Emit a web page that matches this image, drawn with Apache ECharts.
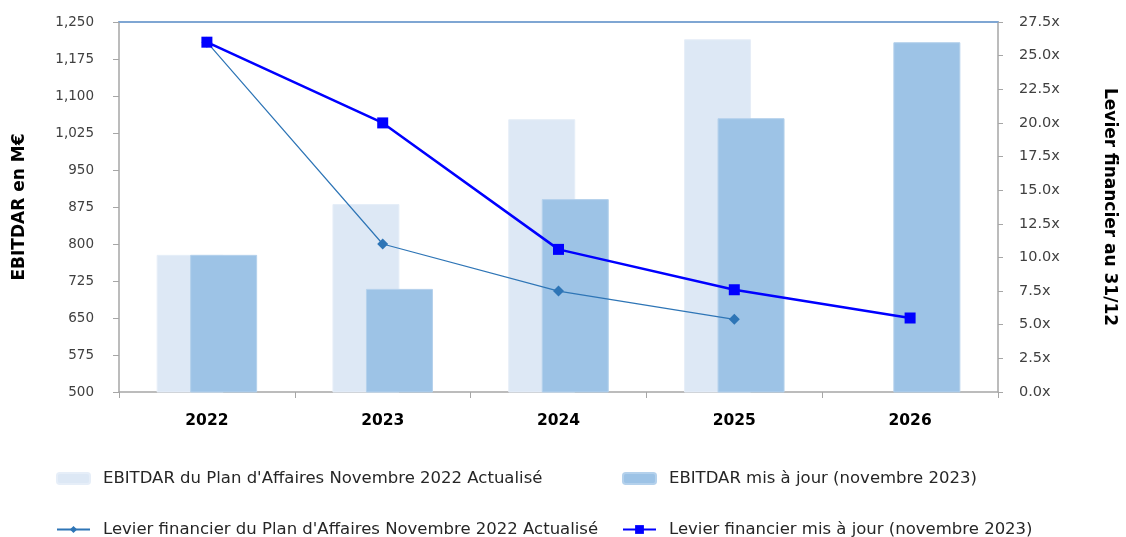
<!DOCTYPE html>
<html>
<head>
<meta charset="utf-8">
<script src="https://cdn.jsdelivr.net/npm/echarts@6/dist/echarts.min.js"></script>
<style>
html,body{margin:0;padding:0;background:#fff;}
#c{width:1126px;height:537px;}
</style>
</head>
<body>
<div id="c"></div>
<script>
var categories = ['2022', '2023', '2024', '2025', '2026'];
var ebitdarPlan = [778, 881, 1053, 1215, null];
var ebitdarUpdated = [778, 709, 891, 1055, 1209];
var levierPlan = [26.0, 11.0, 7.5, 5.4, null];
var levierUpdated = [26.0, 20.0, 10.6, 7.6, 5.5];
var names = [
  "EBITDAR du Plan d'Affaires Novembre 2022 Actualisé",
  "EBITDAR mis à jour (novembre 2023)",
  "Levier financier du Plan d'Affaires Novembre 2022 Actualisé",
  "Levier financier mis à jour (novembre 2023)"
];

var font = '"DejaVu Sans", sans-serif';
var chart = echarts.init(document.getElementById('c'));
var legendBase = {
  orient: 'horizontal',
  itemGap: 0,
  padding: 0,
  textStyle: {fontFamily: font, fontSize: 16.5, color: '#262626', padding: [0, 0, 0, 8]},
  selectedMode: false
};
chart.setOption({
  animation: false,
  grid: {left: 119, right: 124, top: 22, bottom: 145},
  legend: [
    Object.assign({}, legendBase, {data: [names[0]], left: 56, top: 470, itemWidth: 33, itemHeight: 11}),
    Object.assign({}, legendBase, {data: [names[1]], left: 622, top: 470, itemWidth: 33, itemHeight: 11}),
    Object.assign({}, legendBase, {data: [names[2]], left: 56, top: 521, itemWidth: 33, itemHeight: 9}),
    Object.assign({}, legendBase, {data: [names[3]], left: 622, top: 521, itemWidth: 33, itemHeight: 11})
  ],
  xAxis: [{
    type: 'category',
    data: categories,
    position: 'bottom',
    axisLine: {lineStyle: {color: '#A6A6A6', width: 1.5}},
    axisTick: {show: true, alignWithLabel: false, length: 6, lineStyle: {color: '#A6A6A6'}},
    axisLabel: {fontFamily: font, fontSize: 15.5, fontWeight: 'bold', color: '#000', margin: 21}
  }, {
    type: 'category',
    data: categories,
    position: 'top',
    axisLine: {lineStyle: {color: '#7FA6D3', width: 2}},
    axisTick: {show: false},
    axisLabel: {show: false}
  }],
  yAxis: [{
    type: 'value',
    min: 500, max: 1250, interval: 75,
    name: 'EBITDAR en M€',
    nameLocation: 'middle',
    nameRotate: 90,
    nameGap: 91,
    nameTextStyle: {fontFamily: font, fontSize: 17, fontWeight: 'bold', color: '#000'},
    axisLine: {show: true, lineStyle: {color: '#A6A6A6', width: 1.5}},
    axisTick: {show: true, length: 6, lineStyle: {color: '#A6A6A6'}},
    splitLine: {show: false},
    axisLabel: {fontFamily: font, fontSize: 13.5, color: '#404040', margin: 25,
      formatter: function (v) { return v.toLocaleString('en-US'); }}
  }, {
    type: 'value',
    min: 0, max: 27.5, interval: 2.5,
    position: 'right',
    name: 'Levier financier au 31/12',
    nameLocation: 'middle',
    nameRotate: -90,
    nameGap: 103,
    nameTextStyle: {fontFamily: font, fontSize: 17, fontWeight: 'bold', color: '#000'},
    axisLine: {show: true, lineStyle: {color: '#A6A6A6', width: 1.5}},
    axisTick: {show: true, length: 5, lineStyle: {color: '#A6A6A6'}},
    splitLine: {show: false},
    axisLabel: {fontFamily: font, fontSize: 14.5, color: '#404040', margin: 21,
      formatter: function (v) { return v.toFixed(1) + 'x'; }}
  }],
  series: [{
    name: names[0],
    type: 'bar',
    data: ebitdarPlan,
    barWidth: 67,
    barGap: '-50%',
    itemStyle: {color: '#DDE8F5', borderColor: '#E6EEF8', borderWidth: 1}
  }, {
    name: names[1],
    type: 'bar',
    data: ebitdarUpdated,
    barWidth: 67,
    barGap: '-50%',
    itemStyle: {color: '#9DC3E6', borderColor: '#B4D1EC', borderWidth: 1}
  }, {
    name: names[2],
    type: 'line',
    yAxisIndex: 1,
    data: levierPlan,
    symbol: 'diamond',
    symbolSize: 11,
    lineStyle: {color: '#2E75B6', width: 1.2},
    itemStyle: {color: '#2E75B6'},
    z: 3
  }, {
    name: names[3],
    type: 'line',
    yAxisIndex: 1,
    data: levierUpdated,
    symbol: 'rect',
    symbolSize: 11,
    lineStyle: {color: '#0000FF', width: 2.5},
    itemStyle: {color: '#0000FF'},
    z: 4
  }]
});
</script>
</body>
</html>
